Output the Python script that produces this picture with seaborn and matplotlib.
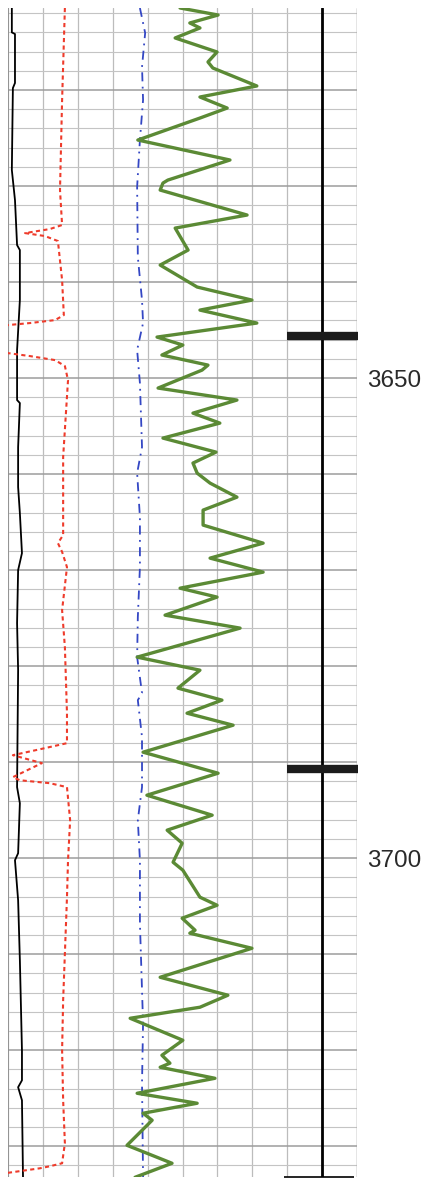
import numpy as np
import pandas as pd
import matplotlib
matplotlib.use('Agg')
import matplotlib.pyplot as plt
import seaborn as sns
from matplotlib.ticker import MultipleLocator, FuncFormatter

# depth (m) / value (chart divisions, 0-10)
green_depth = [3611.46, 3612.19, 3613.02, 3613.54, 3614.58, 3616.04, 3617.08, 3617.71, 3619.58, 3620.73,
               3621.88, 3622.92, 3625.21, 3627.29, 3629.38, 3629.69, 3630.42, 3633.02, 3634.38, 3636.67,
               3638.23, 3640.52, 3641.88, 3642.92, 3644.27, 3645.73, 3646.56, 3647.60, 3648.65, 3649.17,
               3651.04, 3652.29, 3653.65, 3654.69, 3656.25, 3657.71, 3658.85, 3659.90, 3660.94, 3662.40,
               3663.75, 3665.31, 3667.19, 3668.75, 3670.21, 3671.88, 3672.81, 3674.69, 3676.04, 3679.06,
               3680.42, 3682.29, 3683.54, 3684.90, 3686.15, 3688.96, 3691.15, 3693.44, 3695.52, 3697.08,
               3698.44, 3700.42, 3701.25, 3704.06, 3704.90, 3706.25, 3707.50, 3707.81, 3709.38, 3712.40,
               3714.27, 3715.52, 3716.67, 3718.96, 3720.52, 3721.35, 3721.77, 3722.92, 3724.48, 3725.52,
               3726.56, 3727.29, 3729.90, 3731.77, 3733.23]
green_val = [4.93, 6.02, 5.21, 5.50, 4.79, 5.99, 5.73, 5.87, 7.13, 5.50,
             6.28, 5.50, 3.72, 6.36, 4.58, 4.44, 4.36, 6.85, 4.79, 5.16,
             4.36, 5.42, 6.99, 5.50, 7.13, 4.27, 5.01, 4.41, 5.73, 5.56,
             4.30, 6.56, 5.30, 6.07, 4.44, 5.96, 5.30, 5.42, 5.79, 6.56,
             5.59, 5.59, 7.31, 5.79, 7.31, 4.93, 5.99, 4.50, 6.65, 3.70,
             5.50, 4.87, 6.13, 5.13, 6.45, 3.87, 6.02, 3.98, 5.85, 4.56,
             4.99, 4.73, 5.01, 5.50, 5.99, 4.99, 5.36, 5.21, 6.99, 4.36,
             6.30, 5.50, 3.50, 5.01, 4.41, 4.64, 4.36, 5.93, 3.70, 5.42,
             3.87, 4.13, 3.41, 4.70, 3.64]

red_depth = [3611.46, 3621.04, 3630.42, 3634.06, 3634.48, 3634.90, 3635.21, 3635.73, 3639.79, 3643.44,
             3643.96, 3644.27, 3644.48, 3644.70, 3647.20, 3647.40, 3647.71, 3648.13, 3648.75, 3650.21,
             3658.23, 3666.35, 3667.19, 3668.10, 3669.69, 3674.17, 3678.02, 3684.90, 3688.02, 3688.65,
             3689.27, 3690.10, 3691.56, 3691.88, 3692.19, 3692.60, 3696.04, 3700.21, 3704.06, 3714.79,
             3720.00, 3725.21, 3729.69, 3731.77, 3732.08, 3732.29, 3732.81, 3733.23]
red_val = [1.63, 1.55, 1.49, 1.55, 1.20, 0.49, 1.06, 1.43, 1.55, 1.60,
           1.35, 0.63, 0.00, -0.40, -0.40, 0.00, 0.63, 1.35, 1.63, 1.72,
           1.58, 1.58, 1.43, 1.55, 1.69, 1.55, 1.63, 1.69, 1.69, 0.92,
           0.14, 0.97, 0.14, 0.34, 1.20, 1.69, 1.78, 1.72, 1.69, 1.58,
           1.55, 1.58, 1.63, 1.55, 1.20, 0.92, -0.09, -0.40]

blue_depth = [3611.46, 3614.06, 3617.60, 3621.04, 3625.20, 3630.10, 3637.40, 3641.88, 3644.27, 3647.08,
              3650.52, 3657.19, 3659.90, 3664.48, 3669.69, 3674.90, 3679.06, 3682.80, 3683.54, 3687.40,
              3692.60, 3696.04, 3700.21, 3706.77, 3713.75, 3717.19, 3723.44, 3733.23]
blue_val = [3.78, 3.93, 3.84, 3.87, 3.78, 3.70, 3.72, 3.84, 3.87, 3.70,
            3.78, 3.84, 3.70, 3.78, 3.78, 3.72, 3.70, 3.84, 3.72, 3.84,
            3.84, 3.72, 3.78, 3.78, 3.84, 3.87, 3.84, 3.87]

black_depth = [3611.46, 3614.00, 3614.17, 3619.27, 3619.80, 3628.33, 3631.46, 3636.15, 3636.67, 3641.88,
               3647.08, 3652.29, 3652.60, 3657.19, 3661.35, 3664.06, 3668.23, 3670.00, 3675.52, 3680.42,
               3692.60, 3694.27, 3699.48, 3700.21, 3704.38, 3710.60, 3720.00, 3723.13, 3723.85, 3725.21,
               3733.23]
black_val = [0.11, 0.11, 0.20, 0.20, 0.14, 0.11, 0.20, 0.26, 0.34, 0.34,
             0.26, 0.26, 0.34, 0.29, 0.29, 0.34, 0.40, 0.29, 0.26, 0.29,
             0.26, 0.34, 0.29, 0.20, 0.29, 0.34, 0.40, 0.40, 0.29, 0.40,
             0.43]

tops = [3645.6, 3690.7]
depth_labels = [3650, 3700]
top_depth, bottom_depth = 3611.46, 3733.2

sns.set_style('white')
plt.rcParams['font.family'] = ['Liberation Sans', 'DejaVu Sans']

fig = plt.figure(figsize=(4.31, 11.81), dpi=100)
ax = fig.add_axes([8 / 431, 4 / 1181, 349 / 431, 1169 / 1181])

# grid
ax.set_xlim(0, 10)
ax.set_ylim(bottom_depth, top_depth)
ax.xaxis.set_major_locator(MultipleLocator(1))
ax.yaxis.set_major_locator(MultipleLocator(10))
ax.yaxis.set_minor_locator(MultipleLocator(2))
ax.grid(which='major', axis='x', color='#bcbcbc', lw=0.9)
ax.grid(which='minor', axis='y', color='#c4c4c4', lw=0.8)
ax.grid(which='major', axis='y', color='#9c9c9c', lw=1.1)
ax.set_axisbelow(True)
for s in ax.spines.values():
    s.set_visible(False)
ax.axvline(0, color='#909090', lw=1.3)
ax.axvline(10, color='#a0a0a0', lw=1.0)

sns.lineplot(x=black_val, y=black_depth, sort=False, orient='y', color='black', lw=1.3, ax=ax)
sns.lineplot(x=red_val, y=red_depth, sort=False, orient='y', color='#ee3b2b', lw=1.5,
             linestyle=(0, (2, 1.6)), ax=ax)
sns.lineplot(x=blue_val, y=blue_depth, sort=False, orient='y', color='#3447c4', lw=1.3,
             linestyle=(0, (5, 3, 1, 3)), ax=ax)
sns.lineplot(x=green_val, y=green_depth, sort=False, orient='y', color='#5b8a35', lw=2.4,
             solid_joinstyle='round', solid_capstyle='round', ax=ax)

# tops track
ax.axvline(9, color='black', lw=2.0)
ax.hlines(tops, 8, 10.03, color='#1c1c1c', lw=6, clip_on=False)
ax.hlines(bottom_depth, 7.9, 9.9, color='black', lw=1.2, clip_on=False)

ax.set_xticklabels([])
ax.set_xlabel('')
ax.set_ylabel('')
ax.yaxis.tick_right()
ax.yaxis.set_major_formatter(FuncFormatter(lambda v, p: f'{int(round(v))}' if int(round(v)) in depth_labels else ''))
ax.tick_params(axis='y', which='both', length=0, pad=7, labelsize=17.5, labelcolor='#2a2a2a')
ax.tick_params(axis='x', length=0)

fig.savefig('out.png', dpi=100)
